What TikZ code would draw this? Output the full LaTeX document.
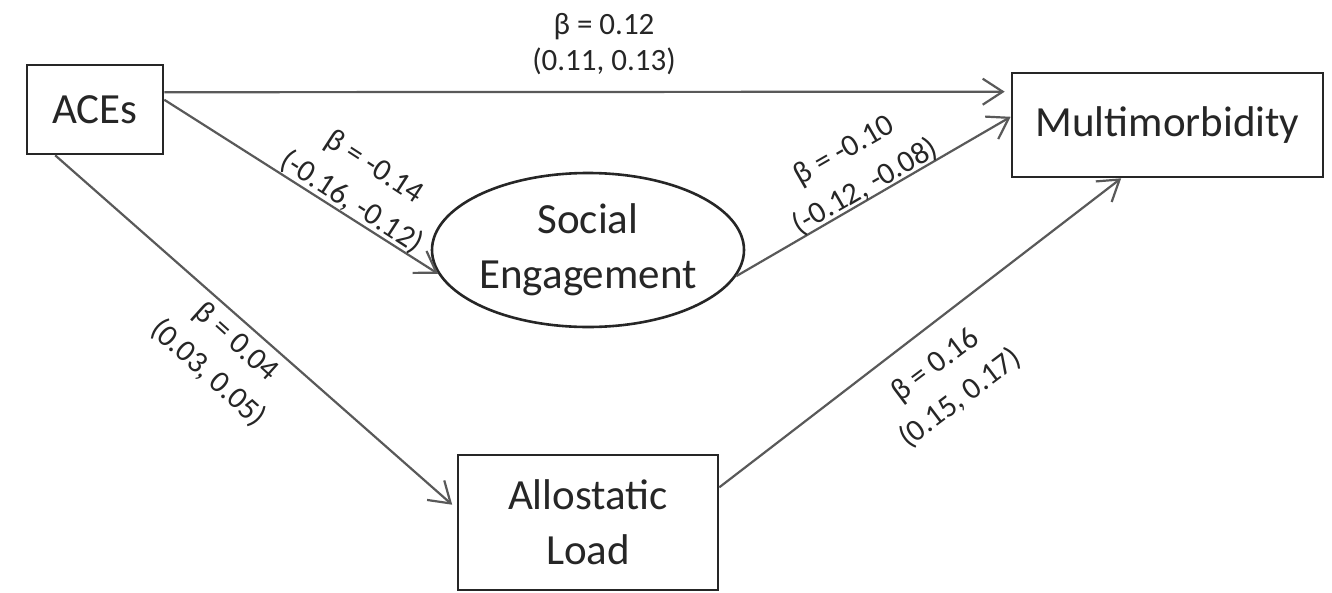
\documentclass[tikz,border=0pt]{standalone}
\usepackage{fontspec}
\setmainfont{Carlito}
\usetikzlibrary{arrows.meta,shapes.geometric}
\begin{document}
\begin{tikzpicture}[x=1pt,y=-1pt,
  box/.style={draw=black!85, line width=2.6pt, inner sep=0pt, align=center, text=black!85, font=\fontsize{43}{55}\selectfont},
  arr/.style={draw=black!65, line width=2.2pt, -{Straight Barb[length=20pt,width=26pt,line width=2.2pt]}},
  lbl/.style={inner sep=0pt, align=center, text=black!85, font=\fontsize{31}{42}\selectfont}]
\useasboundingbox (0,0) rectangle (1332,592);
\node[box, minimum width=136pt, minimum height=89pt] (aces) at (95,109.5) {ACEs};
\node[box, minimum width=311pt, minimum height=104pt] (multi) at (1167.5,125) {Multimorbidity};
\node[box, ellipse, minimum width=312pt, minimum height=154pt] (social) at (588,250) {Social\\Engagement};
\node[box, minimum width=260pt, minimum height=135pt] (allo) at (588,522.5) {Allostatic\\Load};
\draw[arr, shorten >=6pt] (aces.14) -- (multi.168);
\draw[arr] (aces.8) -- (social.189);
\draw[arr, shorten >=6pt] (aces.229) -- (allo.174);
\draw[arr] (social.350) -- (multi.177);
\draw[arr] (allo.15) -- (multi.229);
\node[lbl, font=\fontsize{31}{36}\selectfont] (l1) at (604,44) {β = 0.12\\(0.11, 0.13)};
\node[lbl, rotate=-33] (l2) at (363,185) {β = -0.14\\(-0.16, -0.12)};
\node[lbl, rotate=30] (l3) at (855,169) {β = -0.10\\(-0.12, -0.08)};
\node[lbl, rotate=-42] (l4) at (222,358) {β = 0.04\\(0.03, 0.05)};
\node[lbl, rotate=37] (l5) at (948,382) {β = 0.16\\(0.15, 0.17)};
\end{tikzpicture}
\end{document}
